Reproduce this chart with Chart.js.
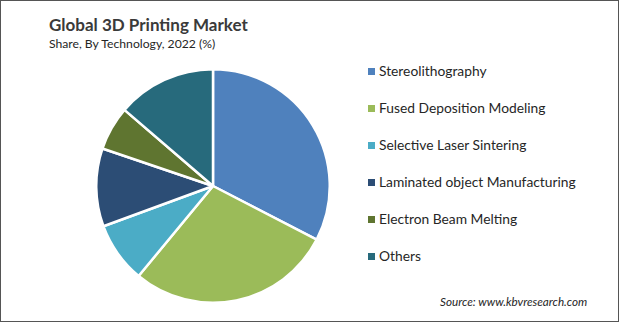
<!DOCTYPE html>
<html>
<head>
<meta charset="utf-8">
<script src="https://cdn.jsdelivr.net/npm/chart.js@4"></script>
<style>
  html, body { margin:0; padding:0; background:#fff; }
  #frame { position:absolute; left:0; top:0; width:619px; height:322px; box-sizing:border-box; border:1px solid #555; background:#fff; overflow:hidden; font-family: Lato, "Open Sans", sans-serif; color:#262626; }
  #title { position:absolute; left:48px; top:13px; font-size:17px; font-weight:bold; color:#3a3a3a; white-space:nowrap; }
  #subtitle { position:absolute; left:48px; top:35px; font-size:12.2px; color:#262626; white-space:nowrap; }
  #pieBox { position:absolute; left:94px; top:67px; width:236px; height:236px; }
  #legend { position:absolute; left:367px; top:61px; }
  .item { position:absolute; left:0; white-space:nowrap; font-size:13.8px; color:#262626; height:18px; line-height:18px; }
  .sw { position:absolute; left:0; top:6px; width:7px; height:7px; }
  .lbl { position:absolute; left:11px; top:0; }
  #source { position:absolute; left:439px; top:293px; font-size:11.7px; font-style:italic; color:#262626; white-space:nowrap; }
</style>
</head>
<body>
<div id="frame">
  <div id="title">Global 3D Printing Market</div>
  <div id="subtitle">Share, By Technology, 2022 (%)</div>
  <div id="pieBox"><canvas id="c" width="236" height="236"></canvas></div>
  <div id="legend"></div>
  <div id="source">Source: www.kbvresearch.com</div>
</div>
<script>
const categories = ["Stereolithography", "Fused Deposition Modeling", "Selective Laser Sintering", "Laminated object Manufacturing", "Electron Beam Melting", "Others"];
const shares = [32.6, 28.4, 8.4, 10.8, 6.1, 13.7];
const colors = ["#4F81BD", "#9BBB59", "#4BACC6", "#2C4D75", "#5F7530", "#276A7C"];

const legend = document.getElementById('legend');
categories.forEach((name, i) => {
  const d = document.createElement('div');
  d.className = 'item';
  d.style.top = (i * 37) + 'px';
  const s = document.createElement('div');
  s.className = 'sw';
  s.style.background = colors[i];
  const t = document.createElement('div');
  t.className = 'lbl';
  t.textContent = name;
  d.appendChild(s); d.appendChild(t);
  legend.appendChild(d);
});

new Chart(document.getElementById('c'), {
  type: 'pie',
  data: {
    labels: categories,
    datasets: [{ data: shares, backgroundColor: colors, borderColor: '#ffffff', borderWidth: 2.5 }]
  },
  options: {
    responsive: false,
    animation: false,
    layout: { padding: 0 },
    plugins: { legend: { display: false }, tooltip: { enabled: false }, title: { display: false } }
  }
});
</script>
</body>
</html>
